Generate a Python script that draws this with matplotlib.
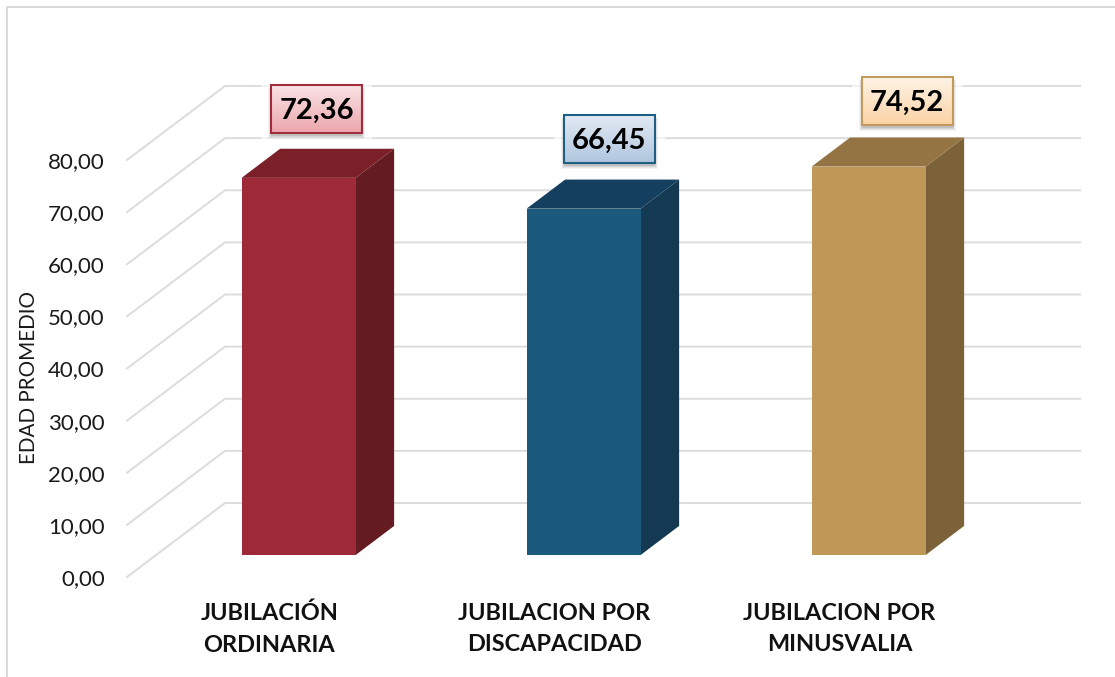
import numpy as np
import matplotlib
matplotlib.use("Agg")
import matplotlib.pyplot as plt
from matplotlib.patches import Rectangle

plt.rcParams["font.family"] = ["Lato", "DejaVu Sans"]

# datos
categorias = ["JUBILACIÓN\nORDINARIA", "JUBILACION POR\nDISCAPACIDAD", "JUBILACION POR\nMINUSVALIA"]
edad_promedio = [72.36, 66.45, 74.52]
y_ticks = [0, 10, 20, 30, 40, 50, 60, 70, 80]
y_label = "EDAD PROMEDIO"

# colores: frente, tapa, lateral
color_frente = ["#9e2a39", "#1c5a7d", "#bf9858"]
color_tapa = ["#7b1f29", "#153f5e", "#957444"]
color_lado = ["#651b22", "#133a52", "#7c6239"]
caja_arriba = ["#f9e3e5", "#e2eaf4", "#fef3e6"]
caja_abajo = ["#eca6ac", "#b0c6de", "#fbd3a6"]
caja_borde = ["#a02c3c", "#1f5f84", "#c29a5c"]
# desplazamiento manual de las etiquetas (px respecto al centro del frente / tope)
label_dx = [18, 25.5, 38.5]
label_dy = [69, 70, 66]

W, H = 1115, 677
PX_X = 285.0      # px por categoria
PX_Y = 417 / 80   # px por unidad
DEPTH_X, DEPTH_Y = 98, 74
BAR_W = 114 / PX_X
GRID = "#dcdcdc"

fig = plt.figure(figsize=(W / 100, H / 100), dpi=100)
fig.patch.set_facecolor("white")
ax = fig.add_axes([127 / W, 1 - 577 / H, 855 / W, 417 / H])
ax.set_xlim(-0.5, 2.5)
ax.set_ylim(0, 80)
ax.patch.set_alpha(0)
for s in ax.spines.values():
    s.set_visible(False)


def proj(x, v, d):
    """posicion en pseudo 3D: d=0 plano frontal, d=1 pared del fondo"""
    return x + d * DEPTH_X / PX_X, v + d * DEPTH_Y / PX_Y


# rejilla
for t in y_ticks:
    a = proj(-0.5, t, 0)
    b = proj(-0.5, t, 1)
    c = proj(2.5, t, 1)
    ax.plot([a[0], b[0], c[0]], [a[1], b[1], c[1]], color=GRID, lw=1.4,
            solid_joinstyle="miter", clip_on=False, zorder=1)

# barras
d0, d1 = 0.297, 0.69
for i, v in enumerate(edad_promedio):
    xl, xr = i - BAR_W / 2, i + BAR_W / 2
    corners = lambda pts: list(zip(*[proj(*p) for p in pts]))
    fx, fy = corners([(xl, 0, d0), (xr, 0, d0), (xr, v, d0), (xl, v, d0)])
    tx, ty = corners([(xl, v, d0), (xr, v, d0), (xr, v, d1), (xl, v, d1)])
    sx, sy = corners([(xr, 0, d0), (xr, 0, d1), (xr, v, d1), (xr, v, d0)])
    ax.fill(sx, sy, color=color_lado[i], lw=0, clip_on=False, zorder=3)
    ax.fill(tx, ty, color=color_tapa[i], lw=0, clip_on=False, zorder=3)
    ax.fill(fx, fy, color=color_frente[i], lw=0, clip_on=False, zorder=4)

# etiquetas de valor
BOX_W, BOX_H = 91, 48
for i, v in enumerate(edad_promedio):
    cx, cy = proj(i, v, d0)
    cx += label_dx[i] / PX_X
    cy += label_dy[i] / PX_Y
    w, h = BOX_W / PX_X, BOX_H / PX_Y
    x0, y0 = cx - w / 2, cy - h / 2
    # halo blanco sobre la rejilla
    ax.add_patch(Rectangle((x0 - 10 / PX_X, y0 - 8 / PX_Y), w + 20 / PX_X, h + 16 / PX_Y, fc="white",
                           alpha=0.65, lw=0, clip_on=False, zorder=2))
    # sombra difusa
    for grow, al in [(3, 0.06), (2, 0.08), (1, 0.1), (0, 0.14)]:
        ax.add_patch(Rectangle((x0 - grow / PX_X, y0 - (3 + grow) / PX_Y), w + 2 * grow / PX_X, h + grow / PX_Y,
                               fc="#444444", alpha=al, lw=0, clip_on=False, zorder=5))
    c1 = np.array(matplotlib.colors.to_rgb(caja_arriba[i]))
    c2 = np.array(matplotlib.colors.to_rgb(caja_abajo[i]))
    grad = np.linspace(0, 1, 48)[:, None, None] * (c2 - c1)[None, None, :] + c1
    ax.imshow(grad, extent=(x0, x0 + w, y0, y0 + h), origin="upper", aspect="auto",
              interpolation="bilinear", clip_on=False, zorder=6)
    ax.add_patch(Rectangle((x0, y0), w, h, fc="none", ec=caja_borde[i], lw=1.5,
                           clip_on=False, zorder=7))
    ax.text(cx, cy - 2.5 / PX_Y, f"{v:.2f}".replace(".", ","), ha="center", va="center", fontsize=21,
            fontweight="bold", color="black", zorder=8)
ax.set_xlim(-0.5, 2.5)
ax.set_ylim(0, 80)

# ejes
ax.set_yticks(y_ticks)
ax.set_yticklabels([f"{t:.2f}".replace(".", ",") for t in y_ticks], fontsize=16, color="#1a1a1a")
ax.tick_params(axis="y", length=0, pad=16)
ax.set_xticks(range(len(categorias)))
ax.set_xticklabels(categorias, fontsize=16.9, fontweight="bold", color="#111111", linespacing=1.63)
ax.tick_params(axis="x", length=0, pad=18.5)
fig.text(29 / W, 1 - 377 / H, y_label, rotation=90, ha="center", va="center", fontsize=14.9, color="#1a1a1a")

# marco exterior
fig.add_artist(plt.Line2D([7 / W, 7 / W, 1], [0, 1 - 7 / H, 1 - 7 / H], color="#d9d9d9", lw=1.4))

fig.savefig("out.png", dpi=100)
